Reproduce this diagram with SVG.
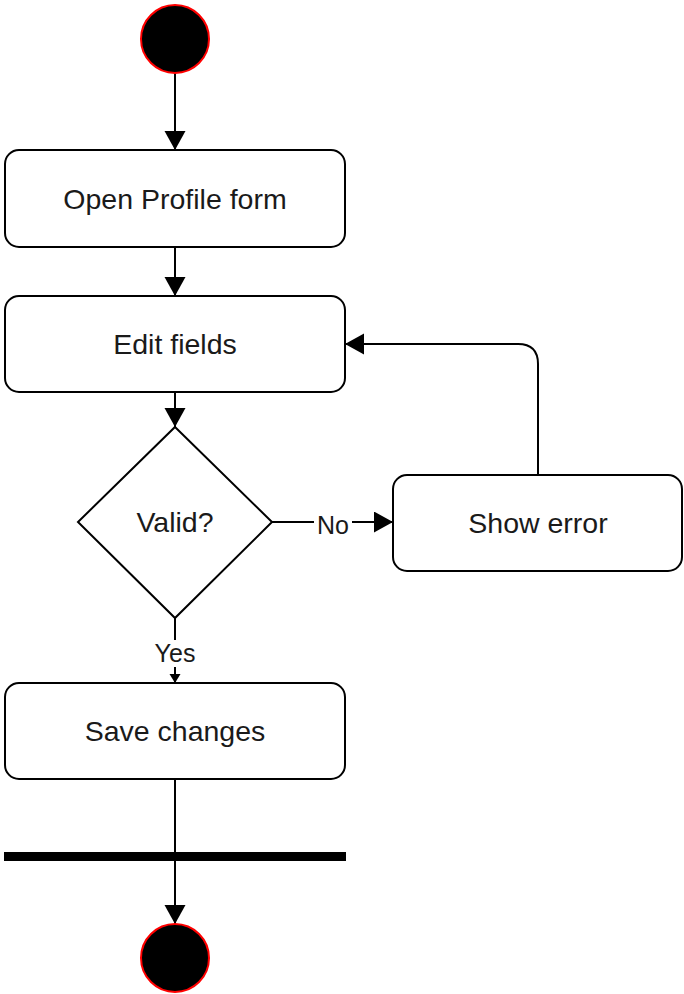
<svg xmlns="http://www.w3.org/2000/svg" width="684" height="994" viewBox="0 0 684 994">
<style>
.box{fill:#fff;stroke:#000;stroke-width:2}
.term{fill:#000;stroke:#ff0000;stroke-width:2}
.lbl{font-family:"Liberation Sans",Arial,sans-serif;font-size:28.5px;fill:#1a1a1a;text-anchor:middle;dominant-baseline:central}
.elbl{font-family:"Liberation Sans",Arial,sans-serif;font-size:25px;fill:#1a1a1a;text-anchor:middle;dominant-baseline:central}
.edge{fill:none;stroke:#000;stroke-width:2}
</style>
<defs>
<marker id="arr" markerUnits="userSpaceOnUse" markerWidth="20" markerHeight="22" refX="19" refY="10.5" orient="auto">
<path d="M0,0 L19,10.5 L0,21 z" fill="#000"/>
</marker>
<marker id="arrs" markerUnits="userSpaceOnUse" markerWidth="10" markerHeight="12" refX="9" refY="5.5" orient="auto">
<path d="M0,0 L9,5.5 L0,11 z" fill="#000"/>
</marker>
</defs>
<rect width="684" height="994" fill="#fff"/>
<g id="connectors">
<path class="edge" d="M175,73 V150" marker-end="url(#arr)"/>
<path class="edge" d="M175,247 V296" marker-end="url(#arr)"/>
<path class="edge" d="M175,392 V427" marker-end="url(#arr)"/>
<path class="edge" d="M272,522 H393" marker-end="url(#arr)"/>
<path class="edge" d="M538,475 V364 Q538,344 518,344 H345" marker-end="url(#arr)"/>
<path class="edge" d="M175,618 V683" marker-end="url(#arrs)"/>
<path class="edge" d="M175,779 V852"/>
<path class="edge" d="M175,861 V924" marker-end="url(#arr)"/>
<rect x="314" y="510" width="38" height="28" fill="#fff"/>
<text class="elbl" x="333" y="525">No</text>
<rect x="151" y="640" width="48" height="27" fill="#fff"/>
<text class="elbl" x="175" y="653">Yes</text>
</g>
<g id="start"><circle class="term" cx="175" cy="39" r="34"/></g>
<g id="open-profile"><rect class="box" x="5" y="150" width="340" height="97" rx="14"/><text class="lbl" x="175" y="199">Open Profile form</text></g>
<g id="edit-fields"><rect class="box" x="5" y="296" width="340" height="96" rx="14"/><text class="lbl" x="175" y="344">Edit fields</text></g>
<g id="valid"><polygon class="box" points="175,427 272,522 175,618 78,522"/><text class="lbl" x="175" y="522">Valid?</text></g>
<g id="show-error"><rect class="box" x="393" y="475" width="289" height="96" rx="14"/><text class="lbl" x="538" y="523">Show error</text></g>
<g id="save-changes"><rect class="box" x="5" y="683" width="340" height="96" rx="14"/><text class="lbl" x="175" y="731">Save changes</text></g>
<g id="join-bar"><rect x="4" y="852" width="342" height="9" fill="#000"/></g>
<g id="end"><circle class="term" cx="175" cy="958" r="34"/></g>
</svg>
